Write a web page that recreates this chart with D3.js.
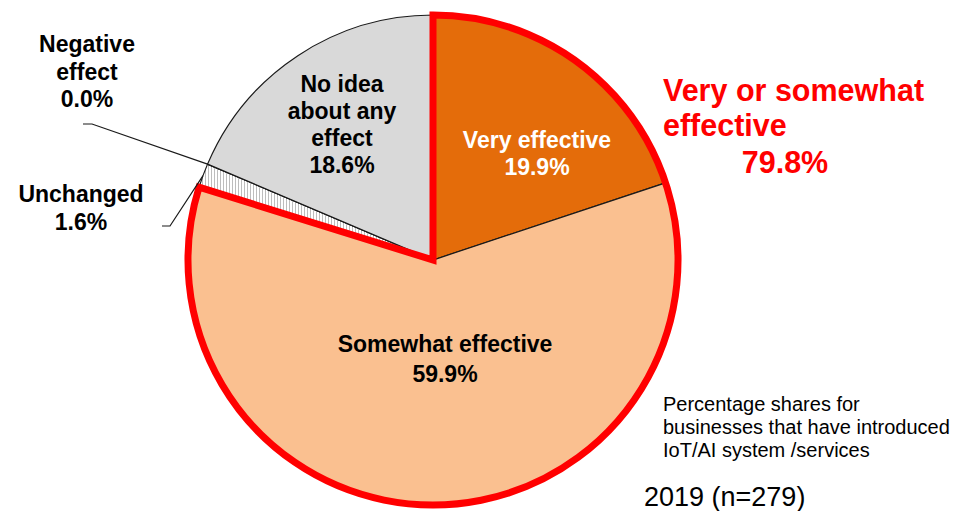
<!DOCTYPE html>
<html>
<head>
<meta charset="utf-8">
<script src="https://cdn.jsdelivr.net/npm/d3@7/dist/d3.min.js"></script>
<style>
  html, body { margin: 0; padding: 0; background: #fff; }
  svg { display: block; font-family: "Liberation Sans", Arial, sans-serif; }
</style>
</head>
<body>
<svg id="chart" width="955" height="511"></svg>
<script>
// Effect of introducing IoT/AI systems and services (shares, %)
const categories = ["Very effective", "Somewhat effective", "Unchanged", "Negative effect", "No idea about any effect"];
const values = [19.9, 59.9, 1.6, 0.0, 18.6];
const fills = ["#E46C0A", "#FAC090", "url(#hatch)", "#FFFFFF", "#D9D9D9"];
const effectiveTotal = 79.8;

const svg = d3.select("#chart");
const cx = 433, cy = 260, r = 245;

// vertical hatching for the "Unchanged" slice
const defs = svg.append("defs");
const pat = defs.append("pattern")
  .attr("id", "hatch").attr("patternUnits", "userSpaceOnUse")
  .attr("width", 3).attr("height", 3);
pat.append("rect").attr("width", 3).attr("height", 3).attr("fill", "#fff");
pat.append("line").attr("x1", 0.5).attr("x2", 0.5).attr("y1", 0).attr("y2", 3)
  .attr("stroke", "#bdbdbd").attr("stroke-width", 1);

const data = categories.map((c, i) => ({ name: c, value: values[i], fill: fills[i] }));
const pie = d3.pie().sort(null).value(d => d.value);
const arcs = pie(data);
const arc = d3.arc().innerRadius(0).outerRadius(r);
const edge = d3.arc().innerRadius(r).outerRadius(r);

const g = svg.append("g").attr("transform", `translate(${cx},${cy})`);

g.selectAll("path.slice").data(arcs).enter().append("path")
  .attr("class", "slice")
  .attr("d", arc)
  .attr("fill", d => d.data.fill)
  .attr("stroke", "#1a1a1a")
  .attr("stroke-width", 1.2);

// red outline around the "very or somewhat effective" share
g.append("path")
  .attr("d", d3.arc().innerRadius(0).outerRadius(r)({
    startAngle: arcs[0].startAngle, endAngle: arcs[1].endAngle
  }))
  .attr("fill", "none")
  .attr("stroke", "#FF0000")
  .attr("stroke-width", 7)
  .attr("stroke-linejoin", "miter");

// leader lines for the thin slices
function leader(a, start) {
  const p = edge.centroid(a);
  return `M${start[0] - cx},${start[1] - cy}H${start[2] - cx}L${p[0]},${p[1]}`;
}
const negArc = arcs[3];
g.append("path")
  .attr("d", leader({ startAngle: negArc.startAngle, endAngle: negArc.endAngle }, [83, 124, 92]))
  .attr("fill", "none").attr("stroke", "#1a1a1a").attr("stroke-width", 1.2);
const unchArc = arcs[2];
g.append("path")
  .attr("d", leader({ startAngle: unchArc.startAngle, endAngle: unchArc.endAngle }, [162, 226, 170]))
  .attr("fill", "none").attr("stroke", "#1a1a1a").attr("stroke-width", 1.2);

// slice labels
const fmt = v => v.toFixed(1) + "%";
function label(lines, x, y0, dy, color) {
  const t = svg.append("text")
    .attr("text-anchor", "middle")
    .attr("font-weight", "bold")
    .attr("font-size", 23)
    .attr("fill", color);
  lines.forEach((s, i) => {
    t.append("tspan").attr("x", x).attr("y", y0 + i * dy).text(s);
  });
}
label(["Very effective", fmt(values[0])], 537, 148, 27, "#fff");
label(["Somewhat effective", fmt(values[1])], 445, 352, 30, "#000");
label(["No idea", "about any", "effect", fmt(values[4])], 342, 92, 27, "#000");
label(["Negative", "effect", fmt(values[3])], 87, 52, 27.5, "#000");
label(["Unchanged", fmt(values[2])], 81, 202, 28, "#000");

// combined share callout
const red = svg.append("text").attr("font-weight", "bold").attr("font-size", 30.5).attr("fill", "#FF0000");
red.append("tspan").attr("x", 663).attr("y", 101).text("Very or somewhat");
red.append("tspan").attr("x", 663).attr("y", 136).text("effective");
svg.append("text").attr("font-weight", "bold").attr("font-size", 30.5).attr("fill", "#FF0000")
  .attr("x", 785).attr("y", 173).attr("text-anchor", "middle").text(fmt(effectiveTotal));

// notes
const note = svg.append("text").attr("font-size", 20).attr("fill", "#000");
["Percentage shares for", "businesses that have introduced", "IoT/AI system /services"].forEach((s, i) => {
  note.append("tspan").attr("x", 663).attr("y", 411 + i * 23).text(s);
});
svg.append("text").attr("font-size", 27).attr("fill", "#000")
  .attr("x", 644).attr("y", 506).text("2019 (n=279)");
</script>
</body>
</html>
